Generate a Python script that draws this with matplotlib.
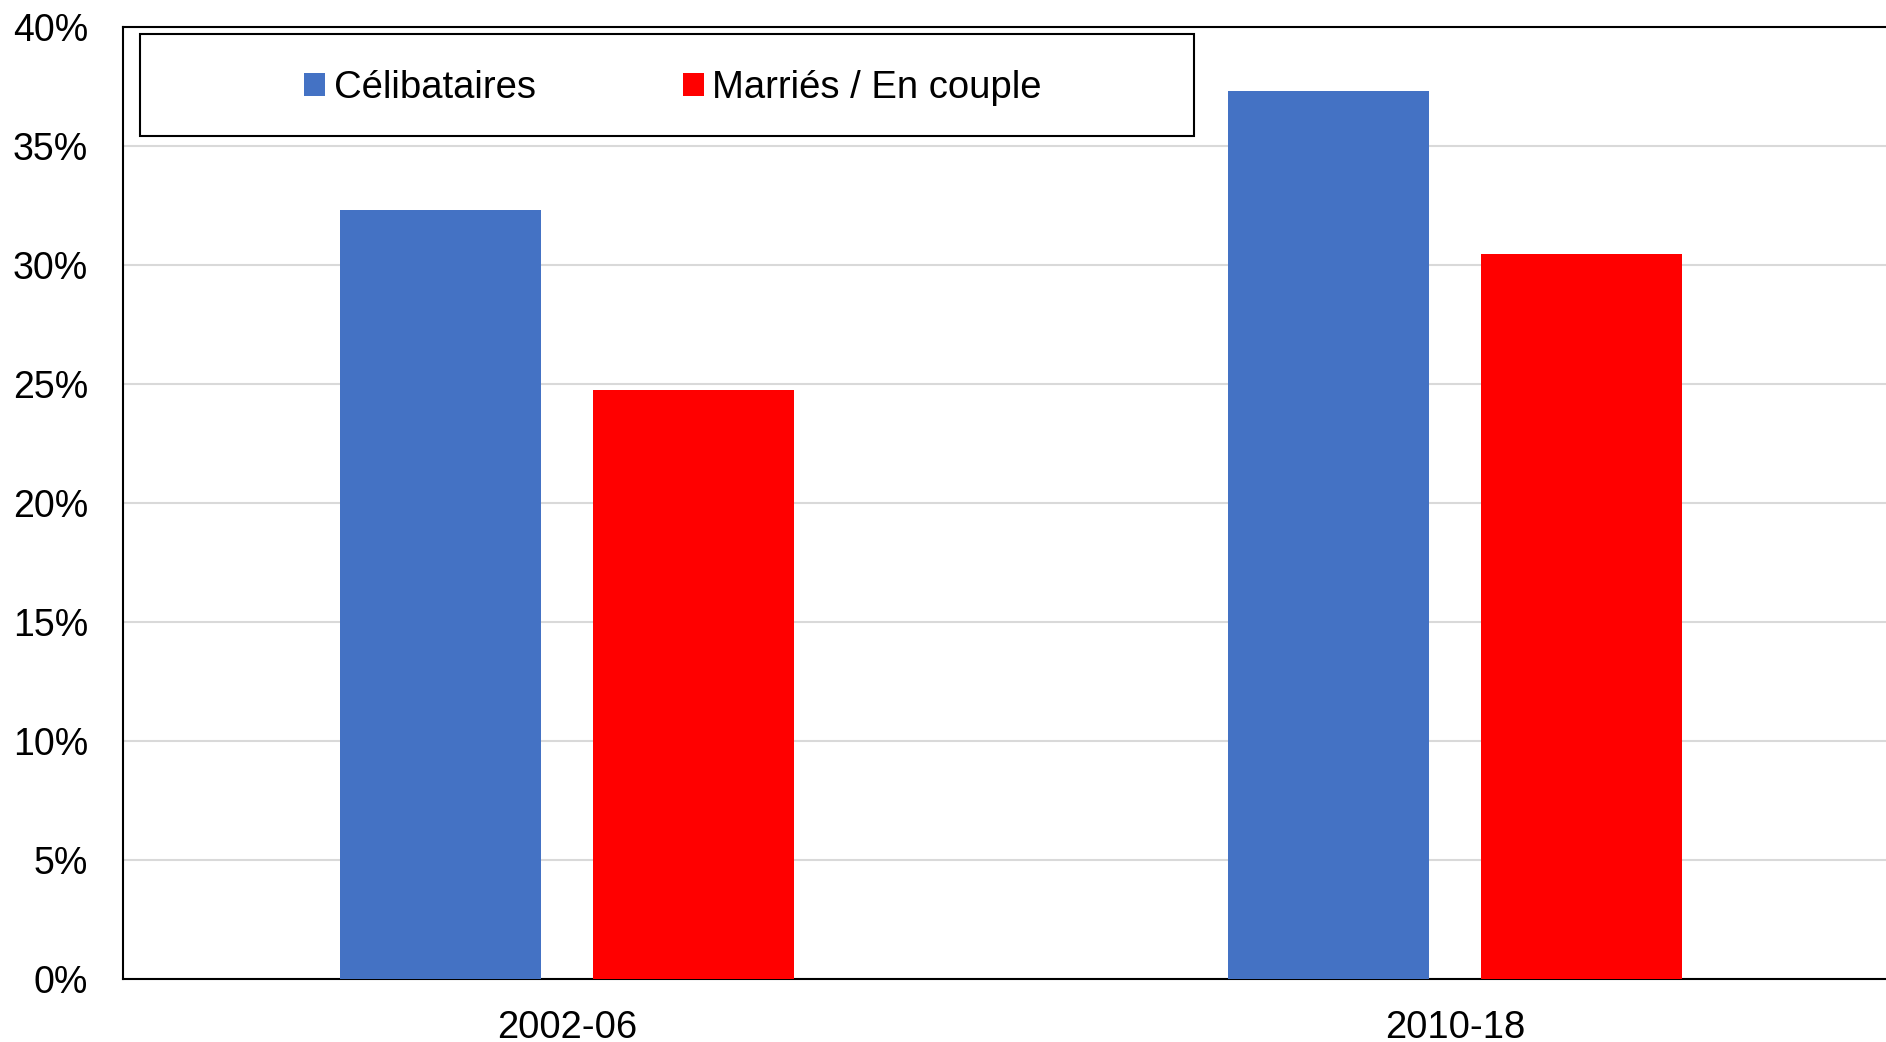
import matplotlib
matplotlib.use("Agg")
import matplotlib.pyplot as plt
from matplotlib.patches import Patch, Rectangle
from matplotlib.ticker import FuncFormatter
import numpy as np

periodes = ["2002-06", "2010-18"]
series = ["Célibataires", "Marriés / En couple"]
celibataires = [32.3, 37.3]
couples = [24.75, 30.45]
cores = ["#4472C4", "#FF0000"]

plt.rcParams["font.family"] = ["Liberation Sans", "DejaVu Sans"]

fig = plt.figure(figsize=(18.86, 10.42), dpi=100)
ax = fig.add_axes([0.0652, 0.0605, 0.9417, 0.9136])

x = np.arange(len(periodes))
largura = 0.2264
desloc = 0.1425
ax.bar(x - desloc, celibataires, largura, color=cores[0], zorder=3)
ax.bar(x + desloc, couples, largura, color=cores[1], zorder=3)

ax.set_xlim(-0.5, len(periodes) - 0.5)
ax.set_ylim(0, 40)
ax.set_yticks(np.arange(0, 41, 5))
ax.yaxis.set_major_formatter(FuncFormatter(lambda v, _: f"{v:.0f}%"))
ax.set_xticks(x)
ax.set_xticklabels(periodes)
ax.tick_params(axis="y", length=0, pad=25, labelsize=27)
ax.tick_params(axis="x", length=0, pad=22, labelsize=27.5)
ax.grid(axis="y", color="#d9d9d9", linewidth=1.5, zorder=0)
ax.set_axisbelow(True)
for spine in ax.spines.values():
    spine.set_linewidth(1.5)
    spine.set_color("black")

# Caixa da legenda desenhada a parte
ax.add_patch(Rectangle((0.0096, 0.8855), 0.5934, 0.1071, transform=ax.transAxes,
                       facecolor="white", edgecolor="black", linewidth=1.5, zorder=5))
ax.legend(
    handles=[Patch(facecolor=c, edgecolor="none", label=s) for c, s in zip(cores, series)],
    loc="center",
    bbox_to_anchor=(0.3097, 0.936),
    ncol=2,
    frameon=False,
    fontsize=27.5,
    handlelength=0.55,
    handleheight=0.55,
    handletextpad=0.22,
    columnspacing=3.85,
).set_zorder(6)

fig.savefig("out.png", dpi=100)
